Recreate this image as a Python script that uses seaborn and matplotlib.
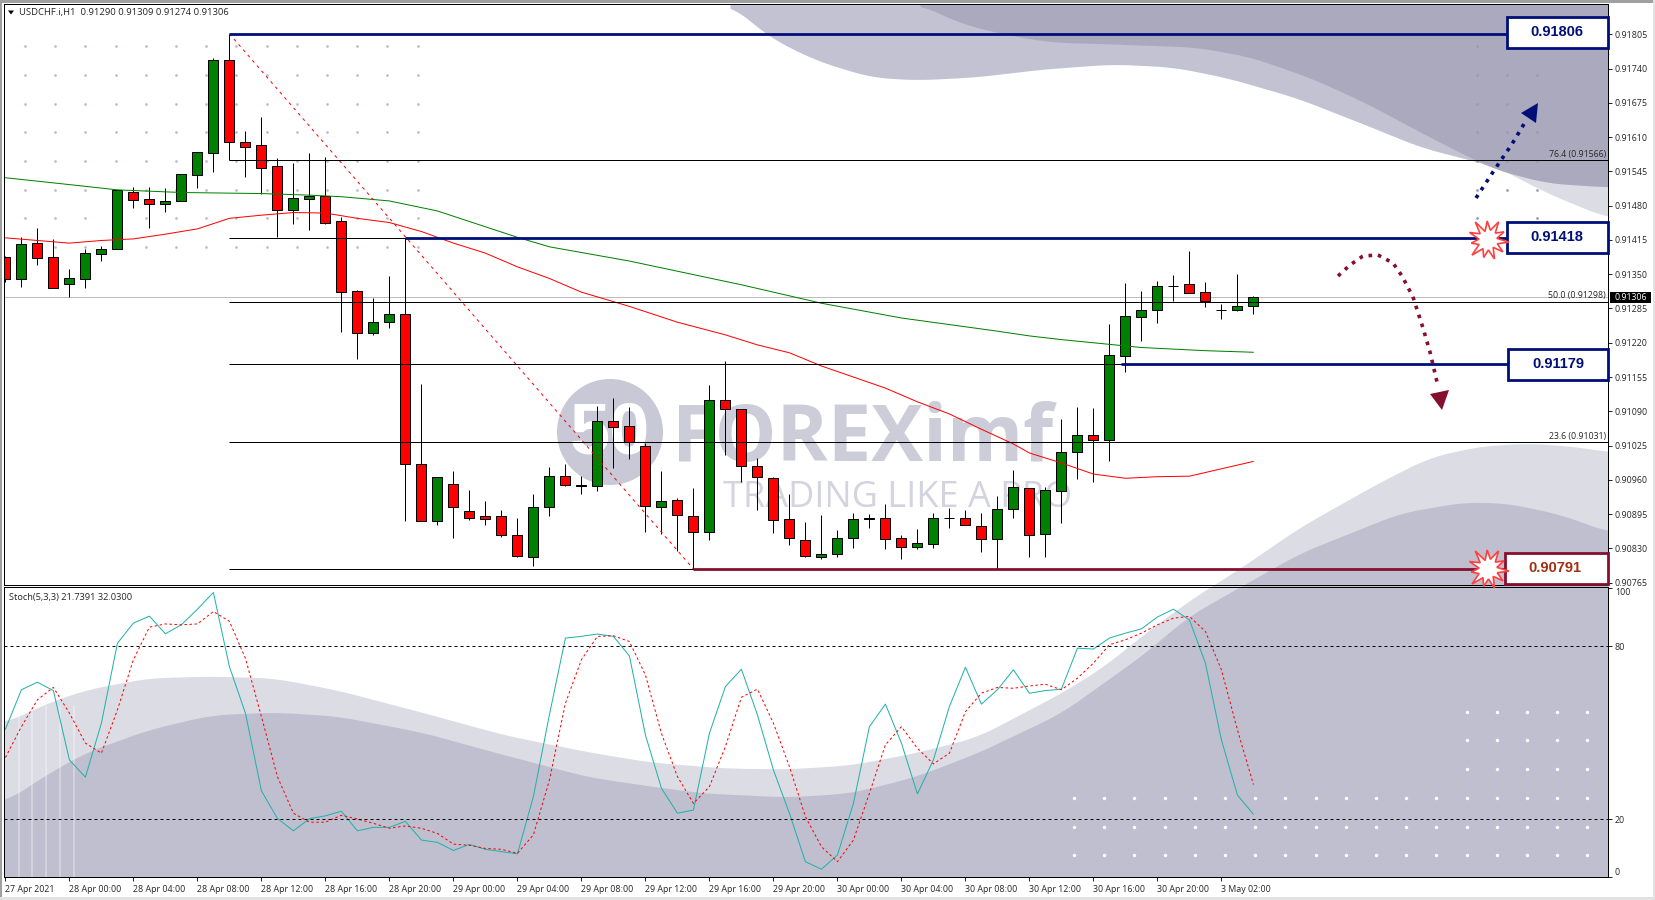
# USDCHF H1 Chart mit Stochastik und Markierungen
import matplotlib
matplotlib.use('Agg')
import matplotlib.pyplot as plt
import numpy as np
import pandas as pd
import seaborn as sns

# Kerzen in Punkten (1e-5)
candle_open = [91382, 91340, 91409, 91382, 91332, 91340, 91389, 91397, 91505, 91492, 91484, 91488, 91539, 91579, 91756, 91600, 91596, 91555, 91472, 91493, 91498, 91450, 91318, 91239, 91259, 91274, 90990, 90882, 90952, 90900, 90891, 90891, 90855, 90814, 90908, 90967, 90951, 90949, 91071, 91063, 91025, 90908, 90921, 90891, 90862, 91111, 91094, 90986, 90963, 90885, 90845, 90814, 90819, 90849, 90886, 90887, 90849, 90833, 90838, 90887, 90887, 90872, 90847, 90904, 90944, 90857, 90938, 91012, 91046, 91035, 91194, 91268, 91283, 91328, 91331, 91316, 91282, 91283, 91290]
candle_high = [91385, 91420, 91437, 91417, 91360, 91398, 91403, 91509, 91515, 91515, 91513, 91541, 91582, 91761, 91806, 91622, 91648, 91570, 91560, 91580, 91572, 91459, 91321, 91305, 91347, 91418, 91142, 90965, 90977, 90941, 90920, 90903, 90888, 90933, 90984, 90991, 90967, 91100, 91115, 91098, 91029, 90977, 90925, 90944, 91140, 91185, 91094, 91001, 90965, 90933, 90880, 90893, 90864, 90898, 90895, 90915, 90855, 90866, 90897, 90906, 90902, 90897, 90929, 90978, 90944, 90947, 91075, 91098, 91096, 91256, 91333, 91318, 91337, 91348, 91394, 91335, 91293, 91350, 91309]
candle_low = [91335, 91326, 91367, 91323, 91307, 91324, 91376, 91397, 91476, 91438, 91468, 91488, 91514, 91544, 91567, 91535, 91503, 91421, 91445, 91434, 91446, 91241, 91190, 91235, 91248, 90882, 90882, 90875, 90850, 90884, 90875, 90852, 90814, 90797, 90891, 90949, 90934, 90939, 90983, 91000, 90862, 90857, 90826, 90791, 90845, 91008, 90955, 90902, 90860, 90837, 90814, 90810, 90814, 90831, 90869, 90828, 90809, 90829, 90831, 90869, 90874, 90824, 90791, 90888, 90814, 90814, 90879, 90962, 90955, 90996, 91165, 91224, 91258, 91299, 91314, 91288, 91266, 91280, 91274]
candle_close = [91341, 91407, 91381, 91323, 91342, 91390, 91397, 91509, 91490, 91483, 91488, 91541, 91581, 91756, 91600, 91592, 91552, 91472, 91494, 91499, 91448, 91317, 91239, 91259, 91274, 90990, 90882, 90965, 90908, 90888, 90886, 90856, 90816, 90908, 90967, 90951, 90949, 91071, 91061, 91032, 90910, 90919, 90893, 90862, 91111, 91094, 90986, 90965, 90883, 90849, 90816, 90819, 90849, 90885, 90887, 90847, 90832, 90840, 90887, 90887, 90874, 90847, 90904, 90946, 90855, 90940, 91012, 91046, 91035, 91196, 91270, 91282, 91327, 91328, 91314, 91299, 91282, 91289, 91306]

ma_green_bars = [0, 4, 7, 11, 16, 19, 21, 24, 27, 30, 32, 34, 39, 46, 51, 56, 62, 64, 66, 69, 71, 73, 75, 78]
ma_green = [91533, 91520, 91510, 91505, 91503, 91500, 91497, 91489, 91470, 91440, 91420, 91402, 91375, 91330, 91295, 91267, 91242, 91233, 91226, 91217, 91211, 91208, 91205, 91202]
ma_red_bars = [0, 2, 4, 6, 8, 10, 12, 14, 16, 18, 20, 22, 24, 26, 28, 30, 32, 34, 36, 39, 42, 45, 47, 49, 51, 53, 55, 57, 59, 61, 63, 64, 66, 68, 70, 72, 74, 76, 78]
ma_red = [91419, 91414, 91409, 91414, 91417, 91426, 91436, 91456, 91462, 91467, 91466, 91456, 91448, 91431, 91409, 91390, 91364, 91342, 91316, 91289, 91259, 91235, 91216, 91201, 91176, 91155, 91134, 91108, 91085, 91056, 91028, 91011, 90992, 90971, 90963, 90966, 90967, 90981, 90995]

stoch_main = [51.2, 64.9, 67.5, 64.6, 40.6, 34.6, 53.3, 81, 88, 90.4, 84.3, 87.4, 92.8, 98.6, 72.9, 56.8, 29.9, 20.3, 16, 20.2, 21.2, 22.8, 16, 17.2, 17.2, 19.3, 12.8, 12, 9.2, 11.3, 9.6, 8.8, 8, 27.9, 56.2, 82.8, 83.4, 84.2, 83.4, 76.6, 49.2, 30.8, 22.1, 23.2, 49.8, 66, 72, 56.2, 37.1, 22.1, 5.3, 2.7, 7.6, 25.5, 52.1, 59.9, 46.4, 28.8, 40.6, 59.1, 72.7, 59.9, 64.9, 71.8, 63.7, 64.6, 65.1, 79.3, 79, 82.8, 84.5, 86, 90.1, 92.8, 89.1, 74.1, 47.5, 28.4, 21.74]
stoch_signal = [41.4, 52.1, 61.4, 65.7, 56.8, 46.4, 42.9, 57.9, 75.3, 86.6, 87.7, 87.4, 87.7, 92, 88.6, 75.8, 55.6, 34.8, 22.1, 19, 19, 21.4, 20.1, 18.6, 16.9, 17.7, 16.9, 15.1, 11.4, 11, 9.9, 9.6, 8.2, 14.6, 33.6, 60.2, 75.3, 83.4, 83.6, 81.6, 70, 49.8, 34.8, 25.5, 31.3, 45.2, 62.3, 65.1, 53.3, 38.3, 20.9, 10.5, 5.3, 12.8, 29, 45.8, 52.1, 44.6, 39.2, 42.9, 57.3, 63.7, 65.7, 65.4, 66.2, 66.8, 64.9, 68.9, 74.1, 80.5, 82.2, 84.5, 87.4, 89.7, 90.3, 85.1, 71.8, 51, 32.03]

date_labels = ['27 Apr 2021', '28 Apr 00:00', '28 Apr 04:00', '28 Apr 08:00', '28 Apr 12:00', '28 Apr 16:00', '28 Apr 20:00', '29 Apr 00:00', '29 Apr 04:00', '29 Apr 08:00', '29 Apr 12:00', '29 Apr 16:00', '29 Apr 20:00', '30 Apr 00:00', '30 Apr 04:00', '30 Apr 08:00', '30 Apr 12:00', '30 Apr 16:00', '30 Apr 20:00', '3 May 02:00']
fib_values = [0.91566, 0.91418, 0.91298, 0.91179, 0.91031, 0.90791]
fib_names = {0.91566: '76.4 (0.91566)', 0.91298: '50.0 (0.91298)', 0.91031: '23.6 (0.91031)'}
level_values = [0.91806, 0.91418, 0.91179, 0.90791]
level_bars = [14, 25, 69.7, 43]
last_price = 0.91306

W, H = 1656, 900
GREEN, RED, NAVY, WINE = '#008000', '#FF0000', '#000F78', '#85102D'
PANEL_L, PANEL_R = 4, 1608
THIN = 0.72


def panel(fig, top, bottom, z=1):
    ax = fig.add_axes([PANEL_L / W, 1 - bottom / H, (PANEL_R - PANEL_L) / W, (bottom - top) / H], zorder=z)
    ax.set_facecolor('none')
    for s in ax.spines.values():
        s.set_linewidth(THIN)
        s.set_color('black')
    ax.set_xlim(-0.0875, 100.16)
    ax.yaxis.tick_right()
    ax.tick_params(length=3, width=THIN, pad=2, labelsize=6.4, left=False, right=True, bottom=True)
    return ax


def smooth(xp, yp, x):
    y = np.interp(x, xp, yp)
    k = np.ones(41) / 41
    ys = np.convolve(np.pad(y, 20, mode='edge'), k, mode='valid')
    return ys


sns.set_style('white')
plt.rcParams['font.family'] = ['Open Sans', 'DejaVu Sans']
fig = plt.figure(figsize=(W / 100, H / 100), dpi=100, facecolor='white')

# Hintergrund in Pixeln
bg = fig.add_axes([0, 0, 1, 1], zorder=0)
bg.set_xlim(0, W)
bg.set_ylim(H, 0)
bg.axis('off')
xs = np.arange(PANEL_L, PANEL_R + 1)

mid_x = [730, 769, 815, 870, 916, 975, 1044, 1113, 1173, 1228, 1297, 1366, 1420, 1497, 1547, 1608]
mid_y = [4, 37, 60, 77, 80, 77, 69, 64, 67, 78, 98, 125, 147, 167, 193, 218]
top_x = [920, 957, 998, 1049, 1113, 1196, 1251, 1311, 1366, 1420, 1477, 1497, 1547, 1608]
top_y = [4, 22, 33, 42, 44, 47, 57, 78, 103, 132, 161, 170, 183, 187]
mid_edge = smooth(mid_x, mid_y, xs)
top_edge = smooth(top_x, top_y, xs)
bg.fill_between(xs, 4, mid_edge, where=(xs >= 730) & (xs < 1490), color='#C3C2D3', lw=0)
bg.fill_between(xs, 4, mid_edge, where=xs >= 1489, color='#DCDCE5', lw=0)
bg.fill_between(xs, 4, top_edge, where=xs >= 920, color='#ABA9BE', lw=0)

light_x = [5, 42, 84, 147, 210, 274, 337, 421, 505, 589, 650, 724, 787, 850, 914, 977, 1061, 1103, 1145, 1187, 1221, 1233, 1300, 1380, 1430, 1480, 1530, 1580, 1608]
light_y = [723, 705, 690, 678, 676, 678, 690, 712, 735, 752, 762, 768, 769, 765, 753, 737, 693, 667, 633, 602, 580, 573, 527, 482, 457, 446, 443, 447, 452]
dark_x = [5, 42, 84, 147, 210, 274, 337, 421, 505, 589, 650, 703, 787, 850, 914, 977, 1061, 1103, 1145, 1187, 1229, 1300, 1400, 1463, 1507, 1563, 1608]
dark_y = [802, 777, 753, 730, 715, 712, 716, 732, 755, 777, 786, 793, 797, 793, 777, 753, 713, 683, 653, 617, 593, 553, 513, 502, 503, 515, 532]
bg.fill_between(xs, smooth(light_x, light_y, xs), 877, color='#DCDCE5', lw=0)
bg.fill_between(xs, smooth(dark_x, dark_y, xs), 877, color='#C0BFD0', lw=0)
for sx in [19, 32, 46, 60, 74]:
    bg.plot([sx, sx], [706, 877], color='white', lw=1.1, alpha=0.4)

# Punktraster
for py in [46, 75, 104, 132, 161, 190, 218, 247]:
    bg.scatter(np.arange(25, 420, 30.2), np.full(14, py), s=4, color='#BEBED2', lw=0)
for px, py in [(1477, 46), (1477, 75), (1507, 75), (1537, 75), (1477, 104), (1507, 104), (1477, 132), (1507, 132), (1537, 132),
               (1477, 161), (1507, 161), (1537, 161), (1477, 190), (1507, 190), (1537, 190), (1477, 218), (1537, 218)]:
    bg.scatter(px, py, s=4, color='#9C9CB2', lw=0)
for py in [798, 827, 855]:
    bg.scatter(np.arange(1074, 1590, 30.2), np.full(18, py), s=6, color='white', lw=0)
for py in [712, 740, 769]:
    bg.scatter(np.arange(1467, 1590, 30), np.full(5, py), s=6, color='white', lw=0)

# Wasserzeichen
bg.add_patch(plt.Circle((610, 432), 53, color='#C8C8D6', lw=0))
bg.text(610, 434, '50', color='white', fontsize=52, fontweight='bold', ha='center', va='center', family='Liberation Sans')
bg.text(672, 441, 'FOREXimf', color='#CDCDDA', fontsize=56, fontweight='bold', ha='left', va='center', family='Open Sans')
bg.text(723, 498, 'TRADING LIKE A PRO', color='#D4D4E0', fontsize=26, ha='left', va='center', family='Open Sans')

# Kursfenster
ax = panel(fig, 4, 585)
bars = np.arange(len(candle_open))
df = pd.DataFrame({'bar': bars, 'open': candle_open, 'high': candle_high, 'low': candle_low, 'close': candle_close})
df[['open', 'high', 'low', 'close']] = df[['open', 'high', 'low', 'close']] / 1e5
ax.vlines(df['bar'], df['low'], df['high'], color='black', lw=THIN, zorder=2)
ax.bar(df['bar'], (df['close'] - df['open']).abs(), bottom=df[['open', 'close']].min(axis=1), width=0.62,
       color=[GREEN if c >= o else RED for o, c in zip(df['open'], df['close'])],
       edgecolor='black', linewidth=THIN, zorder=2.5)

ma_df = pd.DataFrame({'bar': ma_green_bars, 'value': np.array(ma_green) / 1e5})
sns.lineplot(data=ma_df, x='bar', y='value', color=GREEN, lw=THIN, ax=ax, zorder=3)
ma_df = pd.DataFrame({'bar': ma_red_bars, 'value': np.array(ma_red) / 1e5})
sns.lineplot(data=ma_df, x='bar', y='value', color=RED, lw=THIN, ax=ax, zorder=3)

ax.axhline(last_price, color='#BDBDBD', lw=THIN, zorder=1.5)
ax.hlines(fib_values, 14, 100.16, color='black', lw=THIN, zorder=4)
ax.plot([14, 43], [level_values[0], fib_values[-1]], color=RED, lw=THIN, ls=(0, (3, 4)), zorder=3)
for v, st in zip(level_values, level_bars):
    ax.hlines(v, st, 94, color=WINE if v < 0.908 else NAVY, lw=2.0, zorder=5)
for v, name in fib_names.items():
    ax.text(100.05, v + 0.00003, name, fontsize=6.3, ha='right', va='bottom', zorder=6)

ax.set_ylim(0.907606, 0.918625)
price_ticks = np.arange(0.90765, 0.91806, 0.00065)
ax.set_yticks(price_ticks)
ax.set_yticklabels([f'{t:.5f}' for t in price_ticks])
ax.set_xticks([])
ax.set_xlabel('')
ax.set_ylabel('')

# Stochastik
ax2 = panel(fig, 587, 877)
st_df = pd.DataFrame({'bar': bars, 'main': stoch_main, 'signal': stoch_signal})
sns.lineplot(data=st_df, x='bar', y='main', color='#20B2AA', lw=THIN, ax=ax2)
sns.lineplot(data=st_df, x='bar', y='signal', color=RED, lw=THIN, ls=(0, (2.5, 2.5)), ax=ax2)
for lv in [80, 20]:
    ax2.axhline(lv, color='black', lw=THIN, ls=(0, (3, 3)))
ax2.set_ylim(0, 100.5)
ax2.set_yticks([0, 20, 80, 100])
ax2.set_yticklabels(['0', '20', '80', '100'])
ax2.get_yticklabels()[0].set_va('bottom')
ax2.get_yticklabels()[-1].set_va('top')
ax2.set_xticks(np.arange(0, 77, 4))
ax2.set_xticklabels(date_labels, ha='left')
ax2.tick_params(axis='x', pad=3)
ax2.set_xlabel('')
ax2.set_ylabel('')
ax2.text(0.003, 0.965, 'Stoch(5,3,3) 21.7391 32.0300', transform=ax2.transAxes, fontsize=6.7, va='center')

# Obere Ebene: Kästen, Pfeile, Sterne
top = fig.add_axes([0, 0, 1, 1], zorder=5)
top.set_xlim(0, W)
top.set_ylim(H, 0)
top.axis('off')

top.text(19, 12.5, 'USDCHF.i,H1  0.91290 0.91309 0.91274 0.91306', fontsize=6.8, va='center')
top.fill([8, 14, 11], [10.5, 10.5, 14.5], color='black', lw=0)

boxes = [('0.91806', 1507, 17, NAVY, NAVY), ('0.91418', 1507, 222, NAVY, NAVY),
         ('0.91179', 1508, 349, NAVY, NAVY), ('0.90791', 1505, 553, WINE, '#A03010')]
for label, bx, by, edge, txt in boxes:
    top.add_patch(plt.Rectangle((bx, by), 1608 - bx, 31, fc='white', ec=edge, lw=2.0))
    top.text(bx + 50, by + 15, label, color=txt, fontsize=10.5, fontweight='bold', ha='center', va='center', family='Liberation Sans')

star_r = [21, 10, 19, 9, 20, 10, 18, 10, 22, 10, 17, 9, 20, 10, 22, 9, 19, 10, 21, 10, 18, 9]
for cy in [240, 569]:
    ang = np.linspace(0, 2 * np.pi, len(star_r), endpoint=False) + 0.1
    top.fill(1488 + np.array(star_r) * np.cos(ang), cy + np.array(star_r) * np.sin(ang), fc='white', ec='#FF4040', lw=1.2)

up_x = [1476, 1493, 1512, 1524]
up_y = [198, 172, 144, 124]
dn_x = [1338, 1350, 1363, 1378, 1393, 1402, 1413, 1423, 1430, 1437]
dn_y = [276, 265, 256, 255, 263, 276, 297, 328, 352, 382]
top.plot(up_x, up_y, color=NAVY, lw=2.6, ls=(0, (1, 1.6)))
top.fill([1538, 1521, 1536], [103, 113, 123], color=NAVY, lw=0)
tx = np.linspace(0, 1, 80)
top.plot(np.interp(tx, np.linspace(0, 1, 10), dn_x), np.interp(tx, np.linspace(0, 1, 10), dn_y), color=WINE, lw=2.6, ls=(0, (1, 1.6)))
top.fill([1430, 1449, 1442], [394, 390, 410], color=WINE, lw=0)

# Kursmarke rechts
top.add_patch(plt.Rectangle((1610, 292), 41, 11, fc='black', lw=0))
top.text(1630.5, 297.5, f'{last_price:.5f}', color='white', fontsize=6.3, ha='center', va='center')

# Fensterrahmen
top.add_patch(plt.Rectangle((0, 0), 2.5, H, fc='#A0A0A0', lw=0))
top.add_patch(plt.Rectangle((0, 0), W, 2.5, fc='#A0A0A0', lw=0))
top.add_patch(plt.Rectangle((0, H - 3), W, 3, fc='#E2E2E2', lw=0))
top.add_patch(plt.Rectangle((W - 3, 0), 3, H, fc='#E2E2E2', lw=0))

fig.savefig('out.png', dpi=100)
